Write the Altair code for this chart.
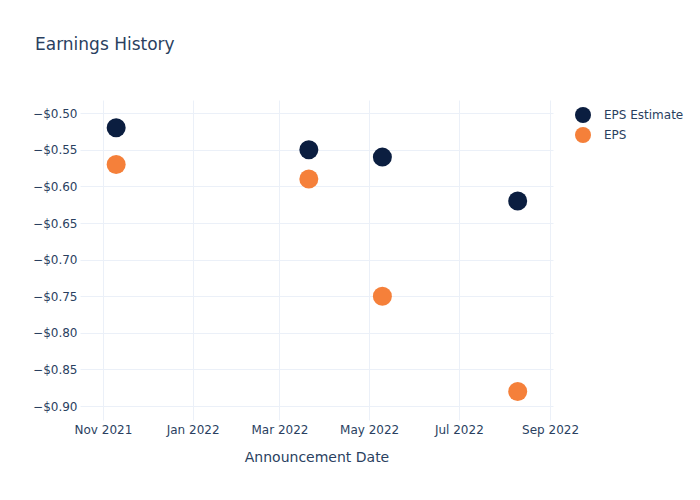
import altair as alt
import pandas as pd

dates = ["2021-11-10", "2022-03-21", "2022-05-10", "2022-08-10"]
eps_estimate = [-0.52, -0.55, -0.56, -0.62]
eps_actual = [-0.57, -0.59, -0.75, -0.88]
series_names = ["EPS Estimate", "EPS"]
series_colors = ["#0b1e40", "#f5803a"]

rows = []
for d, e in zip(dates, eps_estimate):
    rows.append({"date": d, "value": e, "series": "EPS Estimate"})
for d, a in zip(dates, eps_actual):
    rows.append({"date": d, "value": a, "series": "EPS"})
df = pd.DataFrame(rows)

FONT = "DejaVu Sans"
TXT = "#2a3f5f"
GRID = "#ebf0f8"

tick_vals = [
    alt.DateTime(year=2021, month=11, date=1, utc=True),
    alt.DateTime(year=2022, month=1, date=1, utc=True),
    alt.DateTime(year=2022, month=3, date=1, utc=True),
    alt.DateTime(year=2022, month=5, date=1, utc=True),
    alt.DateTime(year=2022, month=7, date=1, utc=True),
    alt.DateTime(year=2022, month=9, date=1, utc=True),
]

chart = (
    alt.Chart(df)
    .mark_circle(opacity=1, size=361)
    .encode(
        x=alt.X(
            "date:T",
            scale=alt.Scale(
                type="utc",
                domain=[
                    alt.DateTime(year=2021, month=10, date=16, hours=10, utc=True),
                    alt.DateTime(year=2022, month=9, date=3, utc=True),
                ],
            ),
            axis=alt.Axis(
                title="Announcement Date",
                values=tick_vals,
                format="%b %Y",
                labelFontSize=12,
                labelColor=TXT,
                labelFont=FONT,
                labelPadding=4,
                titleFont=FONT,
                titleFontSize=14,
                titleFontWeight="normal",
                titleColor=TXT,
                titlePadding=15,
                domain=False,
                ticks=False,
                grid=True,
                gridColor=GRID,
                gridWidth=1,
            ),
        ),
        y=alt.Y(
            "value:Q",
            scale=alt.Scale(domain=[-0.919, -0.482], nice=False, zero=False),
            axis=alt.Axis(
                title=None,
                values=[-0.5, -0.55, -0.6, -0.65, -0.7, -0.75, -0.8, -0.85, -0.9],
                format="$.2f",
                labelFontSize=12,
                labelColor=TXT,
                labelFont=FONT,
                labelPadding=3,
                domain=False,
                ticks=False,
                grid=True,
                gridColor=GRID,
                gridWidth=1,
            ),
        ),
        color=alt.Color(
            "series:N",
            scale=alt.Scale(domain=series_names, range=series_colors),
            sort=series_names,
            legend=alt.Legend(
                title=None,
                orient="none",
                legendX=494,
                legendY=6,
                symbolSize=256,
                symbolType="circle",
                symbolOpacity=1,
                labelFontSize=12,
                labelFont=FONT,
                labelColor=TXT,
                labelOffset=12,
                rowPadding=3,
                padding=0,
            ),
        ),
    )
    .properties(
        width=473,
        height=320,
        title=alt.TitleParams(
            "Earnings History",
            anchor="start",
            frame="group",
            dx=-45,
            offset=46,
            fontSize=17,
            font=FONT,
            fontWeight="normal",
            color=TXT,
        ),
        padding={"left": 80, "top": 100, "right": 147, "bottom": 80},
        autosize=alt.AutoSizeParams(type="none"),
        background="white",
    )
    .configure_view(stroke=None)
)

chart.save("out.html", embed_options={"renderer": "svg", "actions": False})
